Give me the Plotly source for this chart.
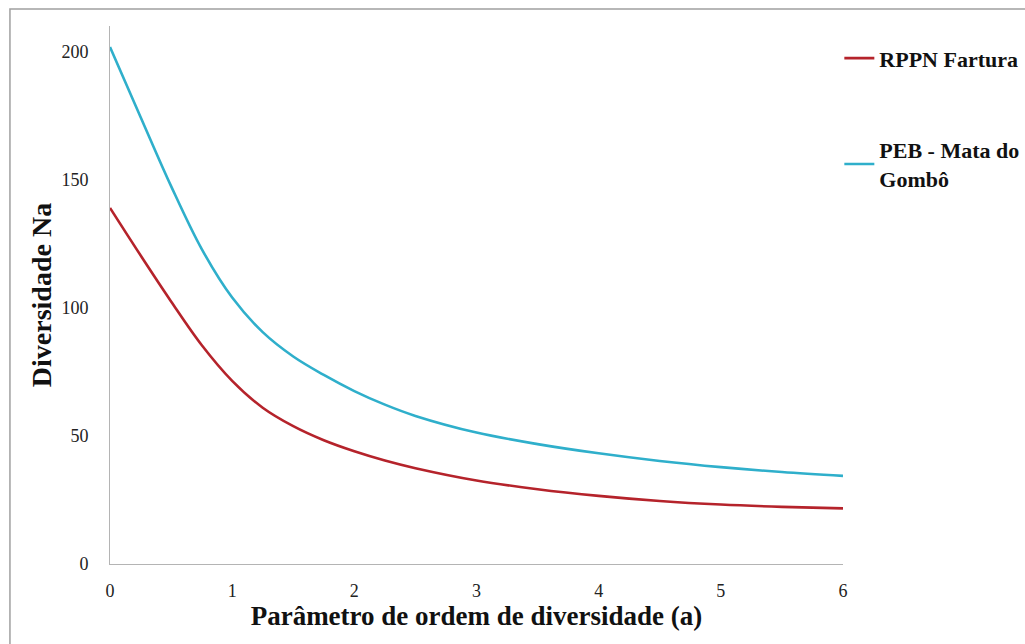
import plotly.graph_objects as go

# Hill-number diversity profiles by order parameter a
ordem_a = [0, 0.25, 0.5, 0.75, 1, 1.25, 1.5, 1.75, 2, 2.25, 2.5, 3, 3.5, 4, 4.5, 5, 5.5, 6]
rppn_fartura = [139, 120.5, 102.5, 85.5, 71.5, 61, 53.8, 48.3, 44, 40.4, 37.4, 32.6, 29.2, 26.6, 24.6, 23.2, 22.3, 21.7]
peb_mata_gombo = [201.8, 174.5, 147.5, 123, 104, 90.5, 81, 73.8, 67.5, 62.2, 57.8, 51.3, 46.8, 43.2, 40.2, 37.8, 35.9, 34.4]

series_names = ["RPPN Fartura", "PEB - Mata do<br>Gombô"]
series_colors = ["#B5232B", "#2FAFCB"]

x_ticks = [0, 1, 2, 3, 4, 5, 6]
y_ticks = [0, 50, 100, 150, 200]

serif = "Liberation Serif, Times New Roman, serif"

fig = go.Figure()
for i, (name, vals, col) in enumerate(zip(series_names, [rppn_fartura, peb_mata_gombo], series_colors)):
    fig.add_trace(go.Scatter(
        x=ordem_a, y=vals, name=f"<b>{name}</b>", mode="lines",
        line=dict(color=col, width=2.6, shape="spline", smoothing=1.0),
        legendgroup=f"g{i}",
    ))

fig.update_layout(
    width=1025, height=644,
    margin=dict(l=110, r=182, t=26, b=80, autoexpand=False),
    paper_bgcolor="white", plot_bgcolor="white",
    font=dict(family=serif, color="#111111"),
    showlegend=True,
    legend=dict(
        x=0.995, xanchor="left", y=0.979, yanchor="top",
        font=dict(family=serif, size=22, color="#111111"),
        tracegroupgap=60, itemwidth=30,
        bgcolor="rgba(0,0,0,0)",
    ),
    xaxis=dict(
        range=[0, 6], tickvals=x_ticks, ticktext=[str(v) for v in x_ticks],
        showgrid=False, zeroline=False,
        showline=True, linecolor="#B4B4B4", linewidth=1,
        ticks="", ticklabelstandoff=10,
        tickfont=dict(family=serif, size=18, color="#222222"),
        title=dict(text="<b>Parâmetro de ordem de diversidade (a)</b>",
                   font=dict(family=serif, size=27, color="#111111"), standoff=0),
    ),
    yaxis=dict(
        range=[0, 210], tickvals=y_ticks, ticktext=[str(v) for v in y_ticks],
        showgrid=False, zeroline=False,
        showline=True, linecolor="#B4B4B4", linewidth=1,
        ticks="", ticklabelstandoff=17,
        tickfont=dict(family=serif, size=18, color="#222222"),
        title=dict(text="<b>Diversidade Na</b>",
                   font=dict(family=serif, size=28, color="#111111"), standoff=1),
    ),
)

# outer frame around the chart area
fig.add_shape(type="rect", xref="paper", yref="paper",
              x0=-0.1365, x1=1.3, y0=-0.3, y1=1.0 + 17 / 538,
              line=dict(color="#A0A0A0", width=1.5), layer="below")

fig.write_html("out.html")
